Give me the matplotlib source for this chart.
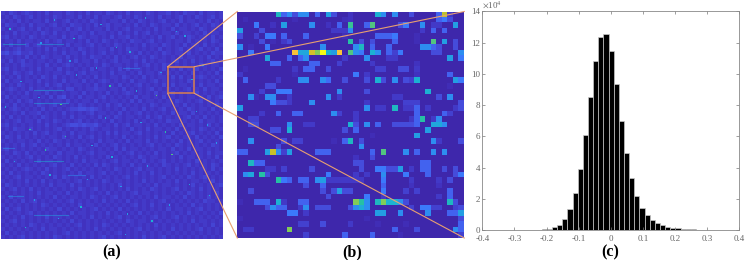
import numpy as np
import matplotlib
matplotlib.use("Agg")
import matplotlib.pyplot as plt
from matplotlib.colors import LinearSegmentedColormap

W, H = 747, 260

# panel (a): coarse reading of the full matrix, one digit per cell
A_ROWS = [
    "2132123212131221321213122132121312213212231213221312212",
    "1213212312121321221312131221231213212213121231213212312",
    "2121312122131212312121321212213121321212312131221213121",
    "1322121312212312132212131231221213121321221312123121321",
    "2121231213121221312312122131212312212131213122121321212",
    "1213122121321312122121312212131213123121221312212131221",
    "2312121321212213121321221213122312121213123121321221312",
    "1221312212131231221213121321212132212312121221312121321",
    "2131213123122121312212312121321212131221321213122131212",
    "1212312212131312121321212213121322121213121231212312131",
    "3423422312121213122131212312121221312121321221312121322",
    "1221213121321221312121322121312123121321212131221213121",
    "2131231212212131213122131212312212131212212312131212312",
    "1212132212131212321212121321221213123121321212121321221",
    "2312121213122131212121312212131312212121312131223121213",
    "1213212312121221321231221213122121312213121212131212131",
    "2121312121321312121212131212213212131212213131212321212",
    "1312212213121213122131212321212131221231212121321212131",
    "2121321212131231212212131212131212312121313122121312212",
    "1232121312212121331212232212213121212312121212312131221",
    "2121213122131212122131212131212321212131223121213121212",
    "1312122121213134121312212312121213122121312121221213123",
    "2121312312121221312122131212212131312212121321212312121",
    "1213121213212312121321212131231212121321221213121212132",
    "2123212121312121233443432121213122131212312121321221312",
    "1212131223121213121212312212131212312121213122131212121",
    "2131212121321212131221213121321221213123121212312131212",
    "1212312213121321212312121213121213121212132212121312212",
    "2312121212131212344343342121312312212131212131221213121",
    "1213221312121231212121321221212131213122121312121321212",
    "2121212131231212131221212131312212312121213121231212131",
    "1321312121212213121312312121213121212131231212213121213",
    "2121221213121321212121213122121312213121212131212312121",
    "1212131231212121312212131212312121212312121321212121321",
    "2312121212132212121321212121313122121212213121312212121",
    "1213213121212131221212312212121231212131212312121213122",
    "2121212312121321213121212131212121321221212131221212131",
    "1312121213122121212131221212312212131212312121213121212",
    "2121312121212312131212131321212131212121321212312121321",
    "1212123212131212312121212121321212312212121312121221312",
    "2131212121321212121312212312121213121312121212131212121",
    "1212312212121313212121312121212312121212312121321231212",
    "2121213121312121212312121321221212131212121312122121312",
    "1321212121213122131212121212131212212131221212131212123",
    "2123121312121212121321231212121312121321212312121312121",
    "1212121213122121312121212131212123122121212121321212131",
    "2131221212121312122121321212312121212131221213121213121",
    "1212131231212121231212121312121312121212312121212132212",
    "2121212121321212121312212121212123121312121212131212121",
    "1312312121212131212121231212131212121212131221212312121",
    "2121212312121212131221212131212121312121212121312121213",
    "1212131212131221212121312121231212121231212312121212121",
    "2123121212121212131212121212121321221212121212131221212",
    "1212121321212121212312121321212121212131212121212121312",
    "2121212121312212121212131212121212312121213121212312121",
    "1312121212121212312121212121231212121212121212121212121",
    "2121231212121321212121212312121212131212312121212121212",
]
A_BASE = 0.055
A_LEVEL = 0.025

# panel (a): streaks visible in the picture
STREAK_ROW = [0.145, 0.145, 0.345, 0.405, 0.66, 0.60, 0.81, 0.895, 0.25, 0.72]
STREAK_START = [0.01, 0.16, 0.15, 0.15, 0.15, 0.01, 0.03, 0.15, 0.55, 0.30]
STREAK_END = [0.11, 0.28, 0.28, 0.30, 0.28, 0.06, 0.10, 0.30, 0.62, 0.38]
STREAK_VALUE = [0.42, 0.38, 0.40, 0.38, 0.42, 0.30, 0.34, 0.36, 0.30, 0.30]

# panel (a): single bright specks, as fractions of the panel
SPECK_X = [0.04, 0.09, 0.13, 0.18, 0.22, 0.27, 0.31, 0.36, 0.41, 0.45, 0.49, 0.54, 0.58, 0.63, 0.68, 0.72, 0.77, 0.83, 0.88, 0.94,
           0.06, 0.11, 0.17, 0.24, 0.29, 0.34, 0.39, 0.47, 0.52, 0.57, 0.61, 0.66, 0.74, 0.79, 0.85, 0.91, 0.97,
           0.02, 0.15, 0.2, 0.26, 0.33, 0.43, 0.5, 0.56, 0.65, 0.7, 0.76, 0.86, 0.93]
SPECK_Y = [0.08, 0.31, 0.52, 0.14, 0.72, 0.41, 0.22, 0.86, 0.59, 0.06, 0.33, 0.77, 0.18, 0.49, 0.92, 0.27, 0.63, 0.11, 0.44, 0.81,
           0.66, 0.95, 0.38, 0.04, 0.55, 0.28, 0.74, 0.47, 0.16, 0.89, 0.35, 0.68, 0.53, 0.09, 0.76, 0.24, 0.58,
           0.42, 0.83, 0.61, 0.91, 0.12, 0.25, 0.64, 0.98, 0.03, 0.37, 0.85, 0.3, 0.5]
SPECK_VALUE = [0.42, 0.34, 0.5, 0.32, 0.38, 0.55, 0.32, 0.42, 0.34, 0.36, 0.5, 0.32, 0.38, 0.34, 0.42, 0.32, 0.55, 0.36, 0.34, 0.4,
               0.34, 0.42, 0.32, 0.36, 0.5, 0.34, 0.32, 0.38, 0.42, 0.34, 0.36, 0.32, 0.5, 0.34, 0.38, 0.42, 0.32,
               0.36, 0.34, 0.5, 0.32, 0.42, 0.34, 0.38, 0.32, 0.36, 0.55, 0.34, 0.42, 0.32]

# panel (b): row -> {column: value}, the rest stays at the background value
B_SIZE = 41
B_BACKGROUND = 0.015
B_CELLS = {
    0: {7: .45, 8: .2, 9: .3, 10: .15, 11: .3, 12: .3, 14: .2, 16: .35, 17: .15, 20: .08, 25: .42, 26: .3, 28: .3, 31: .15, 36: .2, 37: .68, 38: .1},
    1: {1: .05, 10: .05, 19: .06, 20: .08, 36: .2, 37: .25, 38: .15},
    2: {3: .25, 6: .08, 8: .35, 13: .3, 16: .08, 18: .2, 20: .52, 23: .2, 24: .55, 29: .15, 30: .25, 33: .3, 35: .1, 36: .1, 39: .35},
    3: {0: .35, 4: .15, 17: .1, 18: .1, 19: .1, 20: .3, 33: .1, 35: .2, 37: .2},
    4: {0: .15, 3: .12, 5: .25, 6: .25, 8: .2, 12: .2, 19: .06, 25: .2, 26: .2, 27: .2, 28: .25, 32: .05},
    5: {4: .15, 6: .05, 8: .1, 9: .15, 20: .5, 22: .15, 24: .15, 28: .2, 32: .05, 35: .55, 37: .35, 39: .15},
    6: {0: .3, 2: .05, 5: .25, 15: .3, 21: .3, 22: .45, 24: .2, 27: .2, 33: .3, 34: .3, 35: .2, 36: .15, 39: .15},
    7: {2: .25, 10: .82, 11: .38, 12: .38, 13: .72, 14: .6, 15: 1.0, 16: .42, 17: .35, 18: .82, 20: .55, 21: .3, 22: .25, 24: .42, 25: .3, 27: .2, 28: .12, 29: .25, 35: .15, 36: .15, 40: .3},
    8: {5: .38, 9: .2, 11: .2, 12: .3, 19: .1, 23: .3, 27: .1, 28: .1, 38: .35, 40: .25},
    9: {6: .2, 7: .2, 13: .2, 14: .2, 18: .12, 24: .1, 32: .08},
    10: {1: .05, 10: .1, 12: .2, 13: .2, 16: .15, 25: .12, 26: .12, 29: .15, 30: .15, 32: .1},
    11: {0: .1, 10: .05, 21: .25, 23: .1, 32: .08, 38: .2},
    12: {1: .2, 7: .1, 11: .3, 12: .3, 15: .3, 16: .22, 19: .15, 23: .15, 25: .42, 26: .15, 28: .3, 30: .15, 31: .12, 32: .42, 39: .35, 40: .25},
    13: {5: .15, 6: .15, 38: .05},
    14: {4: .12, 7: .25, 8: .25, 9: .25, 18: .3, 23: .15, 34: .42},
    15: {2: .3, 3: .05, 5: .3, 6: .3, 9: .1, 16: .3, 18: .1, 28: .1, 29: .1, 36: .15, 38: .3},
    16: {6: .25, 7: .15, 8: .15, 9: .1, 13: .3, 23: .1, 30: .12, 31: .12, 32: .12, 40: .15},
    17: {0: .35, 23: .3, 25: .1, 26: .1, 28: .45, 30: .1, 31: .1, 32: .2, 34: .1, 39: .1, 40: .15},
    18: {4: .1, 7: .2, 10: .2, 11: .2, 17: .3, 18: .12, 21: .1, 32: .2, 37: .2, 38: .12},
    19: {2: .12, 3: .12, 21: .1, 31: .1, 32: .2, 33: .5, 35: .1, 36: .3},
    20: {2: .15, 3: .15, 9: .3, 12: .1, 13: .1, 20: .42, 21: .15, 23: .3, 25: .2, 28: .15, 29: .15, 30: .15, 31: .15, 32: .2, 35: .38, 36: .38, 37: .3},
    21: {6: .15, 7: .15, 9: .42, 19: .15, 21: .2, 34: .35},
    22: {24: .05, 32: .35},
    23: {2: .3, 8: .15, 10: .12, 11: .12, 17: .05, 19: .2, 20: .45, 22: .15, 35: .3, 36: .1, 40: .15},
    24: {7: .15, 22: .3},
    25: {0: .2, 1: .2, 5: .35, 6: .7, 7: .3, 8: .12, 9: .35, 14: .2, 15: .2, 16: .2, 24: .2, 26: .55, 30: .3, 32: .2, 35: .3, 37: .3},
    26: {21: .08, 24: .15},
    27: {2: .45, 3: .2, 4: .2, 21: .15, 22: .15, 33: .2, 34: .2},
    28: {5: .1, 6: .1, 8: .12, 13: .15, 22: .15, 25: .25, 26: .25, 27: .15, 28: .15, 29: .35, 31: .1, 33: .2, 34: .2, 37: .15, 39: .15},
    29: {1: .3, 2: .38, 4: .5, 5: .15, 16: .25, 21: .1, 23: .1, 26: .3, 30: .25, 34: .2, 39: .15, 40: .25},
    30: {7: .5, 8: .25, 9: .2, 11: .2, 12: .2, 14: .3, 15: .35, 16: .1, 17: .1, 18: .1, 19: .1, 20: .1, 21: .1, 22: .1, 26: .25, 31: .1, 36: .1, 38: .15},
    31: {12: .15, 15: .2, 26: .2, 31: .08, 36: .08},
    32: {2: .15, 15: .15, 17: .15, 18: .35, 19: .15, 20: .15, 26: .25, 30: .12, 32: .12, 38: .2},
    33: {16: .15, 23: .25, 26: .1, 36: .1, 38: .2},
    34: {0: .05, 3: .2, 4: .2, 5: .2, 7: .42, 8: .1, 11: .2, 12: .2, 21: .6, 22: .5, 23: .3, 25: .45, 26: .6, 27: .42, 28: .42, 29: .3, 30: .15, 38: .45, 39: .15},
    35: {5: .15, 6: .3, 7: .2, 8: .2, 11: .1, 12: .3, 14: .15, 15: .15, 16: .15, 20: .15, 21: .3, 22: .4, 23: .3, 31: .12, 33: .25, 34: .25, 35: .12, 36: .12, 39: .12, 40: .15},
    36: {9: .25, 10: .25, 12: .1, 25: .35, 26: .35, 29: .3, 34: .3, 38: .2, 39: .2, 40: .35},
    37: {0: .05, 23: .05, 40: .15},
    38: {11: .12, 12: .12, 15: .15, 20: .1, 25: .05, 30: .05, 40: .2},
    39: {1: .1, 2: .1, 9: .6, 28: .2, 32: .15, 39: .3, 40: .2},
    40: {12: .12, 19: .2, 24: .2, 29: .05, 40: .12},
}

# panel (c): bars in units of 10^4
HIST_CENTERS = [-0.255, -0.239, -0.223, -0.207, -0.191, -0.175, -0.159, -0.143, -0.127, -0.111, -0.095, -0.079, -0.063, -0.047, -0.031, -0.015,
                0.001, 0.017, 0.033, 0.049, 0.065, 0.081, 0.097, 0.113, 0.129, 0.145, 0.161, 0.177, 0.193, 0.209, 0.225, 0.241, 0.257, 0.273, 0.289, 0.305]
HIST_VALUES = [0.01, 0.015, 0.03, 0.05, 0.08, 0.17, 0.35, 0.7, 1.35, 2.35, 3.9, 6.05, 8.5, 10.8, 12.35, 12.55,
               11.45, 9.35, 7.0, 4.95, 3.3, 2.2, 1.42, 0.95, 0.62, 0.43, 0.3, 0.22, 0.16, 0.11, 0.08, 0.05, 0.035, 0.025, 0.015, 0.01]
X_TICKS = [-0.4, -0.3, -0.2, -0.1, 0, 0.1, 0.2, 0.3, 0.4]
Y_TICKS = [0, 2, 4, 6, 8, 10, 12, 14]

PANEL_LABELS = ["(a)", "(b)", "(c)"]

parula = LinearSegmentedColormap.from_list(
    "parula",
    [(0.0, "#3e26a8"), (0.08, "#4233c0"), (0.16, "#4650e0"), (0.24, "#3f75fe"), (0.32, "#2797eb"),
     (0.42, "#1cb2d2"), (0.5, "#25c0a6"), (0.6, "#81cc59"), (0.7, "#c8c129"), (0.8, "#f9bd3f"),
     (0.9, "#f8dd26"), (1.0, "#f9fb15")],
)

plt.rcParams["font.family"] = ["Liberation Serif", "DejaVu Serif"]


def px_axes(fig, left, top, right, bottom, **kw):
    return fig.add_axes([left / W, 1 - bottom / H, (right - left) / W, (bottom - top) / H], **kw)


fig = plt.figure(figsize=(W / 100, H / 100), dpi=100, facecolor="white")

# (a)
ax_a = px_axes(fig, 1, 11, 223, 239)
width = max(len(r) for r in A_ROWS)
a_data = np.array([[A_BASE + int(c) * A_LEVEL for c in r.ljust(width, "1")] for r in A_ROWS])
ax_a.imshow(a_data, cmap=parula, vmin=0, vmax=1, aspect="auto", interpolation="nearest",
            extent=[0, 1, 1, 0])
for row, start, end, value in zip(STREAK_ROW, STREAK_START, STREAK_END, STREAK_VALUE):
    ax_a.plot([start, end], [row, row], color=parula(value), lw=0.8, alpha=0.5)
ax_a.scatter(SPECK_X, SPECK_Y, c=SPECK_VALUE, cmap=parula, vmin=0, vmax=1, s=1.2, marker="s", linewidths=0)
ax_a.set_xlim(0, 1)
ax_a.set_ylim(1, 0)
ax_a.axis("off")

# (b)
ax_b = px_axes(fig, 237.3, 11.5, 464.3, 238)
b_data = np.full((B_SIZE, B_SIZE), B_BACKGROUND)
for row, cells in B_CELLS.items():
    for col, value in cells.items():
        b_data[row, col] = value
ax_b.imshow(b_data, cmap=parula, vmin=0, vmax=1, aspect="auto", interpolation="nearest")
ax_b.axis("off")

# (c)
ax_c = px_axes(fig, 482.3, 11.3, 739.3, 230)
ax_c.bar(HIST_CENTERS, HIST_VALUES, width=0.016, color="black", edgecolor="#c8c8c8", linewidth=0.5)
ax_c.set_xlim(-0.4, 0.4)
ax_c.set_ylim(0, 14)
ax_c.set_xticks(X_TICKS)
ax_c.set_xticklabels(["-0.4", "-0.3", "-0.2", "-0.1", "0", "0.1", "0.2", "0.3", "0.4"])
ax_c.set_yticks(Y_TICKS)
ax_c.tick_params(direction="in", top=True, right=True, length=2.5, width=0.5, color="#777777",
                 labelcolor="#666666", labelsize=6.5, pad=1.5)
ax_c.tick_params(axis="x", pad=3.5)
for spine in ax_c.spines.values():
    spine.set_color("#888888")
    spine.set_linewidth(0.6)
ax_c.text(0.0, 1.005, r"$\times$10$^{4}$", transform=ax_c.transAxes, fontsize=6.5, color="#666666",
          ha="left", va="bottom", math_fontfamily="stix")

# zoom box and guide lines, in figure pixels
ov = fig.add_axes([0, 0, 1, 1], facecolor="none")
ov.set_xlim(0, W)
ov.set_ylim(H, 0)
ov.axis("off")
line_color = "#e8a070"
ov.plot([167.7, 194.3, 194.3, 167.7, 167.7], [66.7, 66.7, 93.3, 93.3, 66.7], color="#d98050", lw=1.1)
ov.plot([167.7, 237.3], [66.7, 11.5], color=line_color, lw=0.8)
ov.plot([194.3, 464.3], [66.7, 11.5], color=line_color, lw=0.8)
ov.plot([194.3, 464.3], [93.3, 238], color=line_color, lw=0.8)
ov.plot([167.7, 237.3], [93.3, 238], color=line_color, lw=0.8)

for label, x in zip(PANEL_LABELS, [112, 352, 610]):
    ov.text(x, 252, label, fontsize=11.5, fontweight="bold", ha="center", va="center", color="black")

fig.savefig("out.png", dpi=100)
